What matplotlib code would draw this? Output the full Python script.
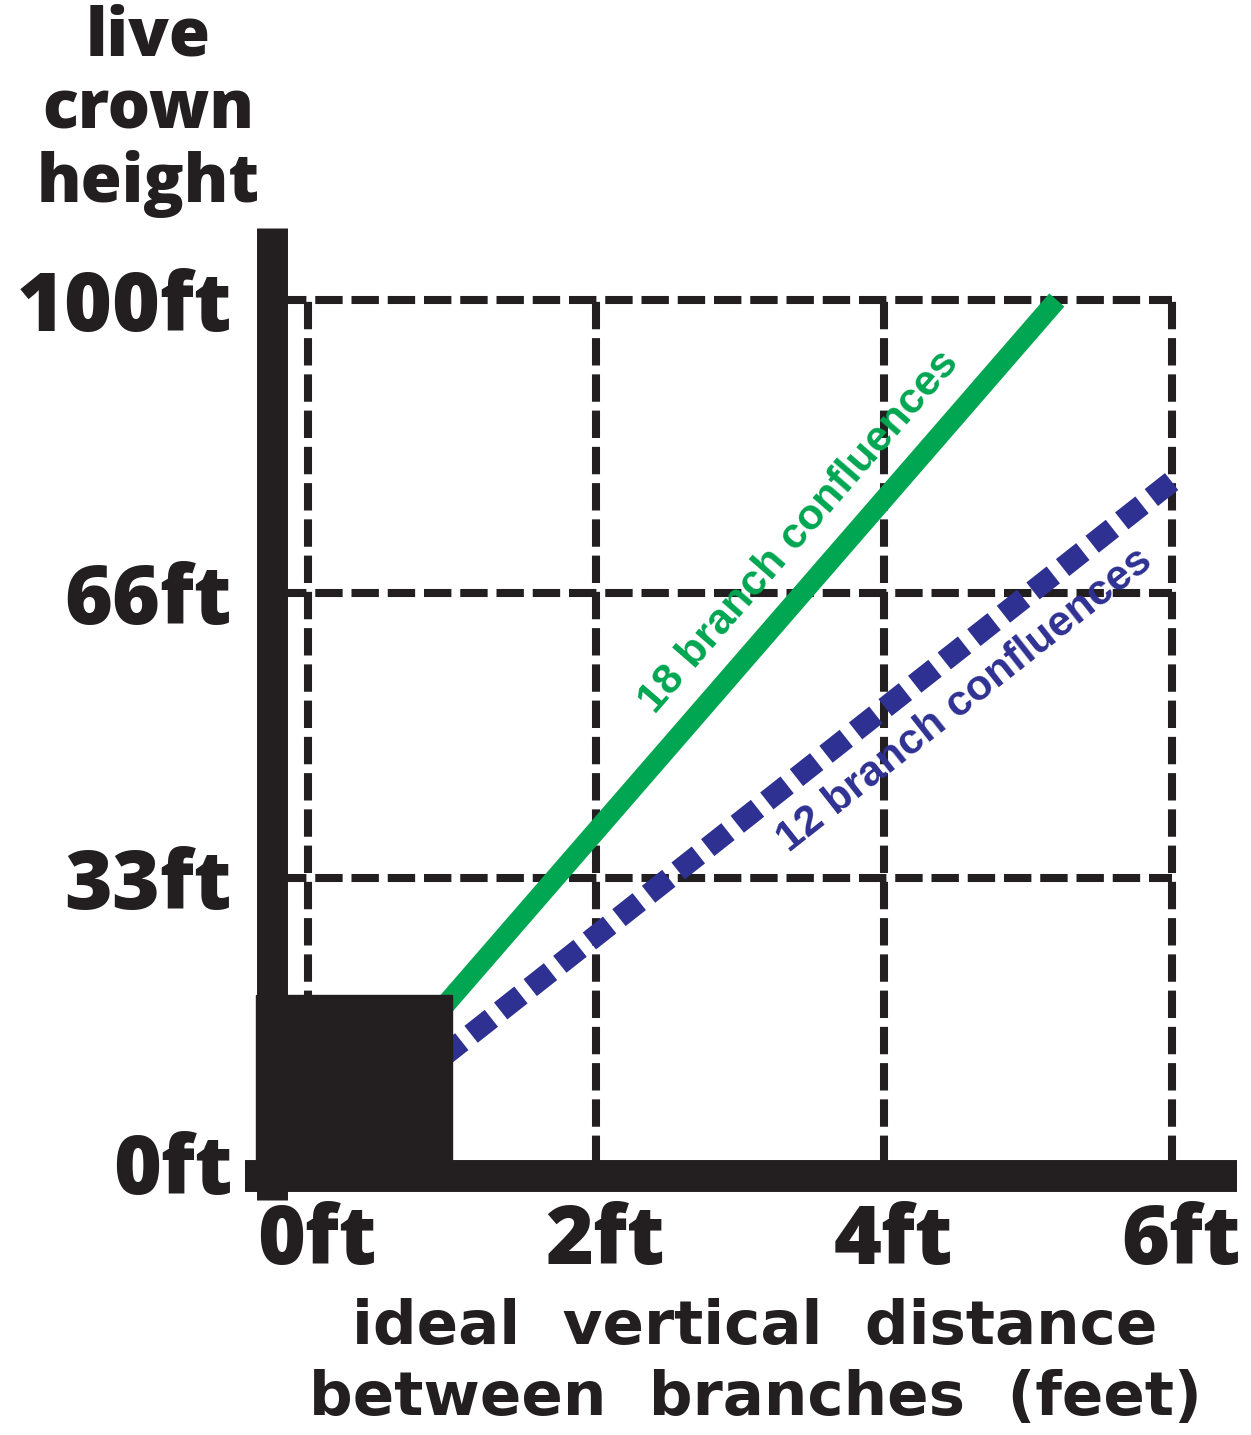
import numpy as np
import matplotlib
matplotlib.use("Agg")
import matplotlib.pyplot as plt
from matplotlib import font_manager as fm
from matplotlib.patches import Rectangle
from matplotlib.transforms import ScaledTranslation

# --- data ---
x_ticks = [0, 2, 4, 6]
x_labels = ["0ft", "2ft", "4ft", "6ft"]
y_ticks = [0, 33, 66, 100]
y_labels = ["0ft", "33ft", "66ft", "100ft"]

green_x = [0, 5.2]      # 18 branch confluences
green_y = [0, 100]
blue_x = [0, 6]         # 12 branch confluences
blue_y = [0, 79]

trunk_w = 1.0           # black block in the corner (ft)
trunk_h = 19.5

BLACK = "#231F20"
GREEN = "#00A651"
BLUE = "#2E3192"


def find_font(names, min_weight):
    for name in names:
        for f in fm.fontManager.ttflist:
            w = f.weight if isinstance(f.weight, int) else 400
            if f.name == name and w >= min_weight and f.style == "normal":
                return fm.FontProperties(fname=f.fname)
    return fm.FontProperties(family="DejaVu Sans", weight="bold")


heavy = find_font(["Noto Sans", "Open Sans", "Lato"], 800)
narrow = find_font(["Liberation Sans Narrow"], 700)
bold = fm.FontProperties(family="Liberation Sans", weight="bold")

fig = plt.figure(figsize=(12.51, 14.35), dpi=100)
ax = fig.add_axes([308 / 1251, 272 / 1435, 864 / 1251, 863 / 1435])
ax.set_xlim(0, 6)
ax.set_ylim(0, 100)

# thick black axis bars
for side in ["top", "right"]:
    ax.spines[side].set_visible(False)
ax.spines["left"].set_position(("outward", 25.6))
ax.spines["left"].set_linewidth(22.3)
ax.spines["left"].set_bounds(-4.3, 108.3)
ax.spines["bottom"].set_position(("outward", 9.4))
ax.spines["bottom"].set_linewidth(23)
ax.spines["bottom"].set_bounds(-0.44, 6.45)
for side in ["left", "bottom"]:
    ax.spines[side].set_color(BLACK)
    ax.spines[side].set_capstyle("butt")
    ax.spines[side].set_zorder(5)

ax.set_xticks(x_ticks)
ax.set_xticklabels(x_labels, fontproperties=heavy, fontsize=59, color=BLACK)
ax.set_yticks(y_ticks)
ax.set_yticklabels(y_labels, fontproperties=heavy, fontsize=59, color=BLACK)
ax.tick_params(axis="x", length=0, pad=19)
ax.tick_params(axis="y", length=0, pad=29)
shift = ScaledTranslation(9 / 100, 0, fig.dpi_scale_trans)
for lab in ax.get_xticklabels():
    lab.set_transform(lab.get_transform() + shift)

# dashed grid
for x in x_ticks:
    ax.plot([x, x], [0, 100], color=BLACK, lw=5.8, dashes=(3.4, 1.1),
            dash_capstyle="butt", clip_on=False, zorder=1)
for y in y_ticks[1:]:
    ax.plot([-0.2, 6], [y, y], color=BLACK, lw=5.8, dashes=(3.4, 1.1),
            dash_capstyle="butt", clip_on=False, zorder=1)

# the two lines
ax.plot(green_x, green_y, color=GREEN, lw=14.4, solid_capstyle="butt",
        clip_on=False, zorder=2)
ax.plot(blue_x, blue_y, color=BLUE, lw=15.5, linestyle=(0.85, (1.2, 0.55)),
        dash_capstyle="butt", clip_on=False, zorder=2)

ax.add_patch(Rectangle((-0.36, 0), trunk_w + 0.36, trunk_h, color=BLACK,
                       clip_on=False, zorder=4))

g_ang = np.degrees(np.arctan2(green_y[1] - green_y[0], green_x[1] - green_x[0]))
b_ang = np.degrees(np.arctan2(blue_y[1] - blue_y[0], blue_x[1] - blue_x[0]))
ax.text(3.41, 73.1, "18 branch confluences", color=GREEN, fontproperties=bold,
        fontsize=31, rotation=g_ang, transform_rotates_text=True,
        rotation_mode="anchor", ha="center", va="center", zorder=3)
ax.text(4.56, 53.6, "12 branch confluences", color=BLUE, fontproperties=bold,
        fontsize=31, rotation=b_ang, transform_rotates_text=True,
        rotation_mode="anchor", ha="center", va="center", zorder=3)

fig.text(148 / 1251, 1 - 4 / 1435, "live\ncrown\nheight", ha="center", va="top",
         fontproperties=heavy, fontsize=48, linespacing=1.12, color=BLACK)
fig.text(755 / 1251, 1 - 1298 / 1435, "ideal  vertical  distance\nbetween  branches  (feet)",
         ha="center", va="top", multialignment="center", fontproperties=narrow,
         fontsize=44, linespacing=1.27, color=BLACK)

fig.savefig("out.png", dpi=100, facecolor="white")
